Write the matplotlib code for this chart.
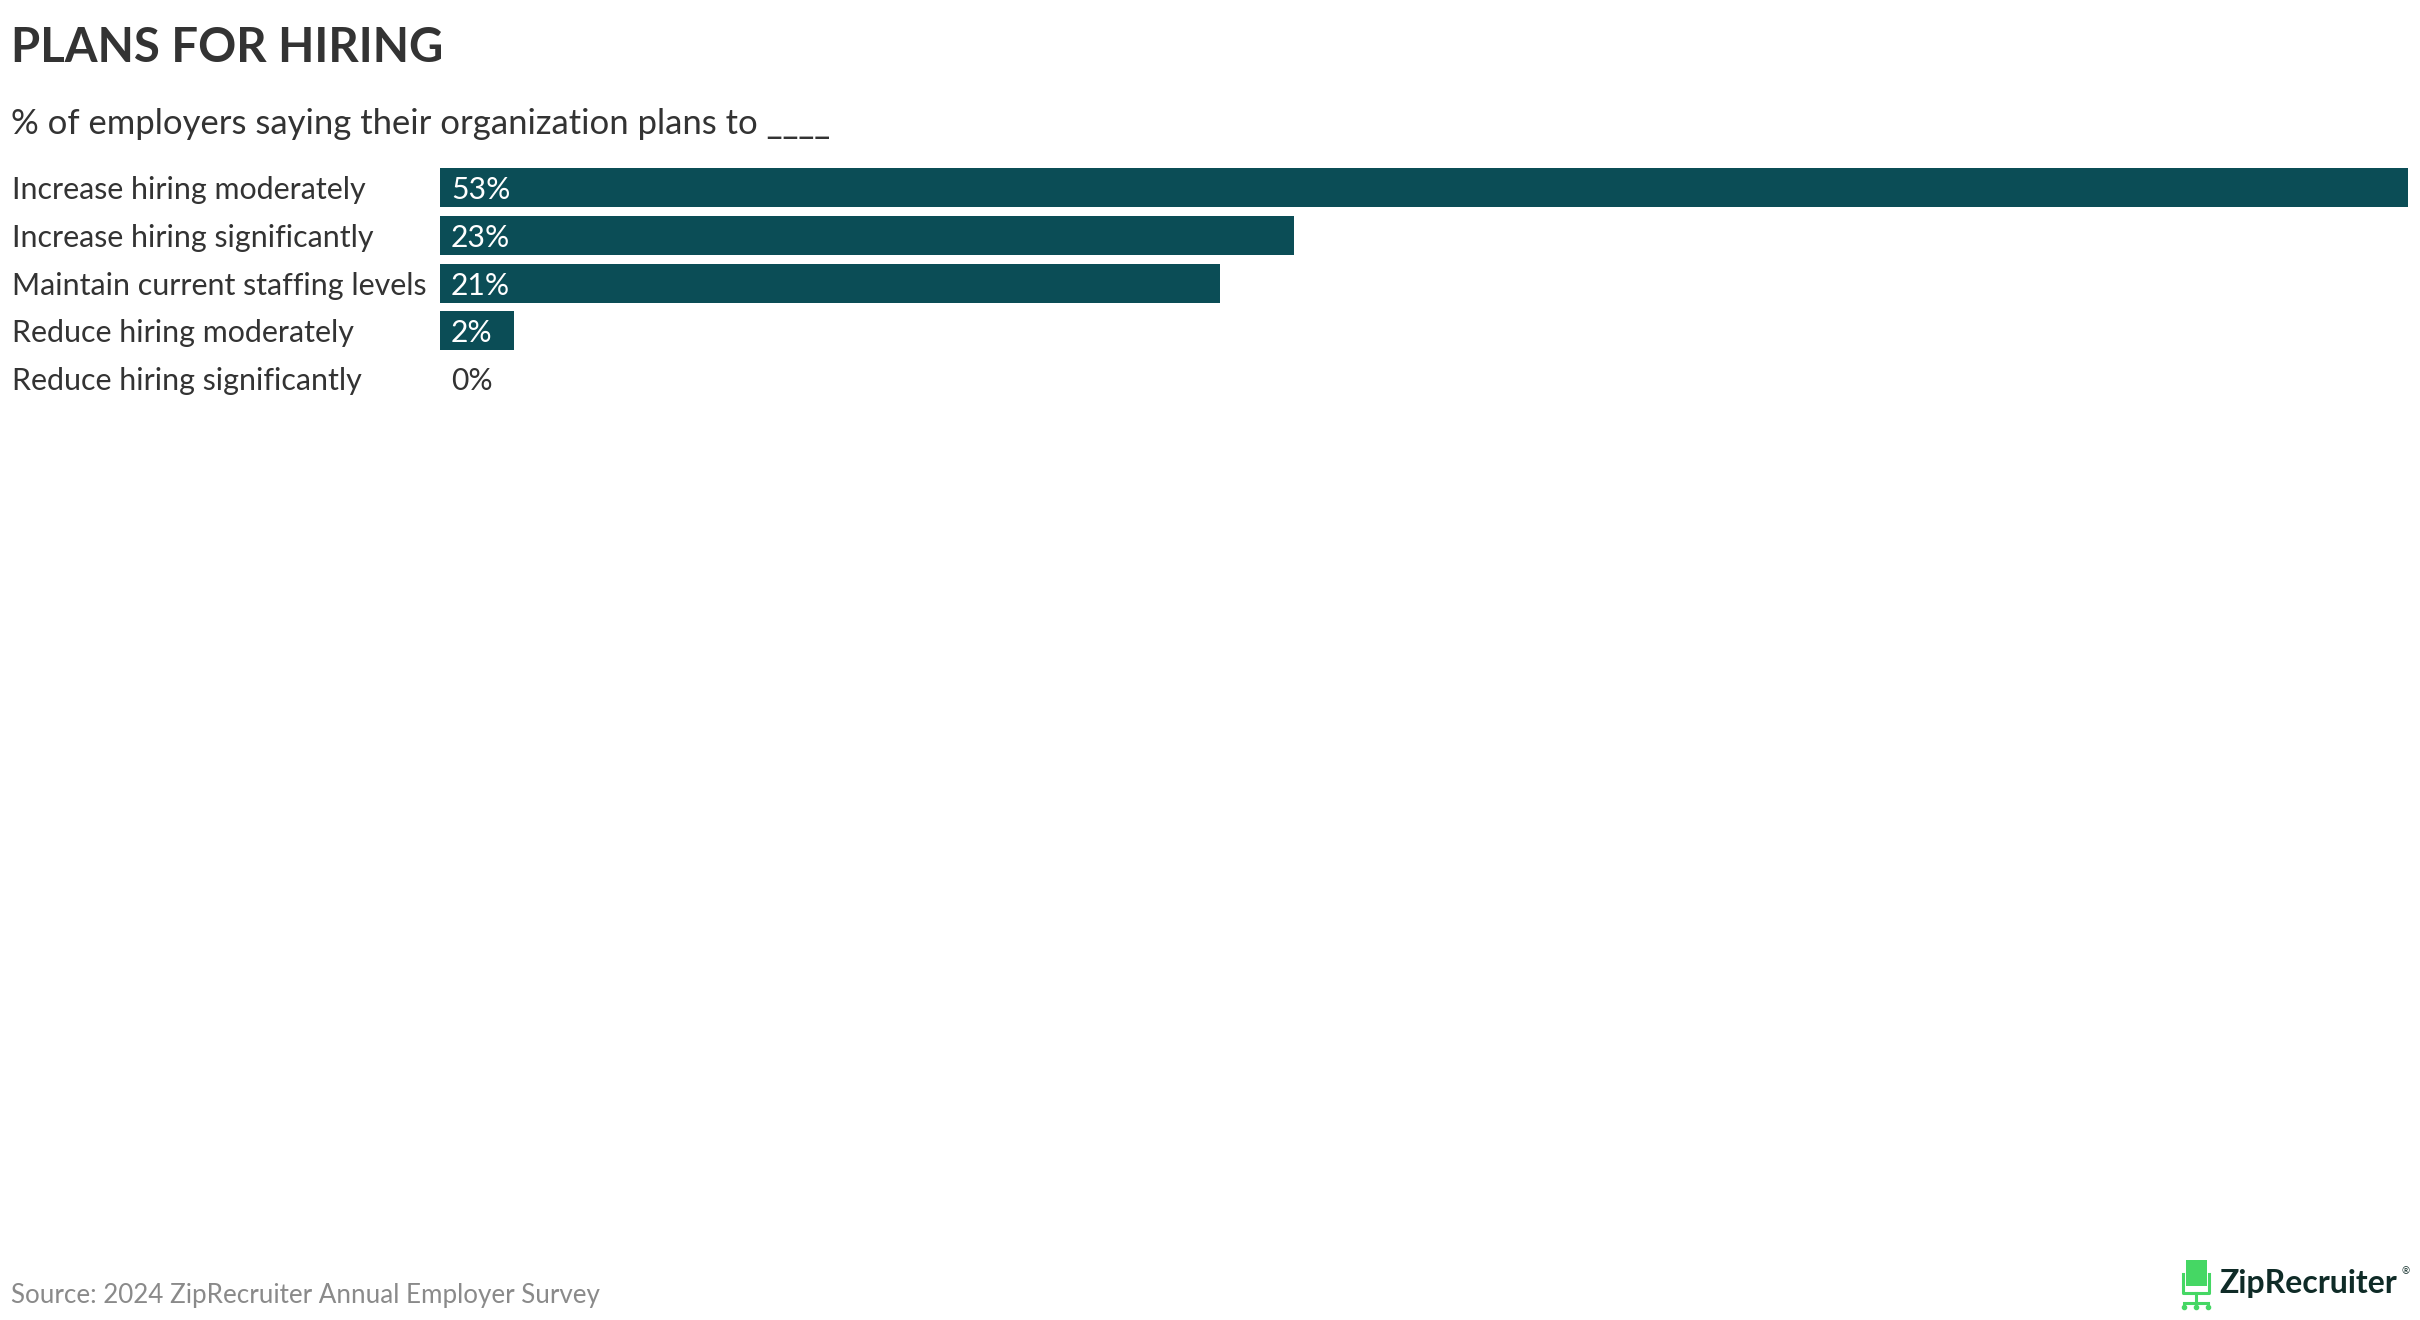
import matplotlib.pyplot as plt
from matplotlib.patches import Rectangle
from matplotlib.lines import Line2D
import matplotlib.transforms as mtrans

# data
categories = ["Increase hiring moderately", "Increase hiring significantly",
              "Maintain current staffing levels", "Reduce hiring moderately",
              "Reduce hiring significantly"]
values = [53, 23, 21, 2, 0]
value_labels = ["53%", "23%", "21%", "2%", "0%"]

W, H = 2420, 1320
plt.rcParams['font.family'] = ['Lato', 'DejaVu Sans']

fig = plt.figure(figsize=(W / 100, H / 100), dpi=100)
fig.patch.set_facecolor("white")

def px(x, y):
    return x / W, 1 - y / H

# titles
fig.text(*px(11, 62), "PLANS FOR HIRING", fontsize=34, fontweight="bold",
         color="#333333", va="baseline", ha="left")
fig.text(*px(11, 134), "% of employers saying their organization plans to ____",
         fontsize=24.9, color="#333333", va="baseline", ha="left")

# bars
row_h = 47.8
top = 187.5 - row_h / 2
bot = top + row_h * len(categories)
ax = fig.add_axes([440 / W, 1 - bot / H, 1968 / W, (bot - top) / H])
ax.barh(range(len(values)), values, height=0.815, color="#0b4d56")
ax.set_xlim(0, 53)
ax.set_ylim(len(values) - 0.5, -0.5)
ax.axis("off")

lab_tr = mtrans.blended_transform_factory(fig.transFigure, ax.transData)
for i, (c, v, t) in enumerate(zip(categories, values, value_labels)):
    ax.text(12 / W, i, c, transform=lab_tr, fontsize=21.9, color="#333333",
            ha="left", va="center_baseline")
    ax.annotate(t, xy=(0, i), xytext=(8, 0), textcoords="offset points",
                fontsize=21.7, color="white" if v > 0 else "#333333",
                ha="left", va="center_baseline")

# source
fig.text(*px(11, 1303), "Source: 2024 ZipRecruiter Annual Employer Survey",
         fontsize=18.7, color="#8a8a8a", va="baseline", ha="left")

# logo
green = "#45d764"
fig.text(*px(2219, 1293), "ZipRecruiter", fontsize=23, fontweight="bold",
         color="#0f2b27", va="baseline", ha="left")
fig.text(*px(2402, 1274), "®", fontsize=7, color="#0f2b27", va="baseline", ha="left")
x0, y0 = px(2186, 1286)
x1, y1 = px(2207, 1260)
fig.patches.append(Rectangle((x0, y0), x1 - x0, y1 - y0, transform=fig.transFigure,
                             facecolor=green, edgecolor="none"))
segs = [
    [(2183, 1274), (2183, 1293), (2209, 1293), (2209, 1274)],
    [(2196, 1293), (2196, 1303)],
    [(2184, 1303), (2208, 1303)],
]
for s in segs:
    xs, ys = zip(*[px(a, b) for a, b in s])
    fig.lines.append(Line2D(xs, ys, transform=fig.transFigure, color=green, lw=2.2))
for wx in (2184, 2196, 2208):
    xs, ys = px(wx, 1307)
    fig.lines.append(Line2D([xs], [ys], transform=fig.transFigure, marker="o",
                            markersize=3, color=green, lw=0))

fig.savefig("out.png", dpi=100, facecolor="white")
